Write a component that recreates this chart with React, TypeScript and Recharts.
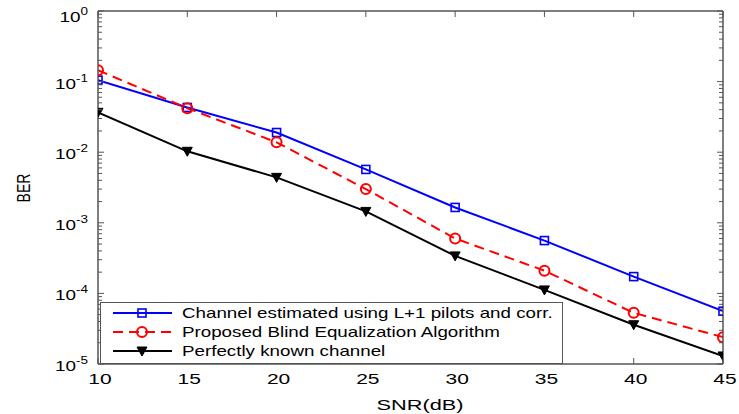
import React from 'react';
import { LineChart, Line, XAxis, YAxis, Legend } from 'recharts';

const snr = [10, 15, 20, 25, 30, 35, 40, 45];
const berEstimated = [0.105, 0.043, 0.019, 0.0057, 0.00165, 0.00056, 0.000173, 0.000056];
const berBlind = [0.145, 0.042, 0.0138, 0.003, 0.0006, 0.00021, 0.000053, 0.000024];
const berKnown = [0.0367, 0.0103, 0.0044, 0.00145, 0.00034, 0.000112, 0.000036, 0.000013];

const seriesKeys = ['est', 'blind', 'known'];
const seriesNames = [
  'Channel estimated using L+1 pilots and corr.',
  'Proposed Blind Equalization Algorithm',
  'Perfectly known channel',
];

const xTicks = [10, 15, 20, 25, 30, 35, 40, 45];
const yMajor = [1e-5, 1e-4, 1e-3, 1e-2, 1e-1, 1];
const minorMult = [2, 3, 4, 5, 6, 7, 8, 9];
const yTicks: number[] = [];
yMajor.forEach((d) => {
  yTicks.push(d);
  if (d < 1) minorMult.forEach((m) => yTicks.push(m * d));
});

const data = snr.map((s, i) => ({
  snr: s,
  est: berEstimated[i],
  blind: berBlind[i],
  known: berKnown[i],
}));

const FONT = '"Liberation Sans", Arial, Helvetica, sans-serif';
const AXIS = '#555555';
const SX = 1.35;

const isMajor = (v: number) => {
  const lg = Math.log10(v);
  return Math.abs(lg - Math.round(lg)) < 1e-6;
};

const YTickLeft = (props: any) => {
  const { x, y, payload } = props;
  const v = payload.value;
  const major = isMajor(v);
  const exp = Math.round(Math.log10(v));
  return (
    <g>
      <path d={`M${x},${y}H${x + (major ? 6 : 4)}`} stroke={AXIS} strokeWidth={1} fill="none" />
      {major && (
        <text
          transform={`translate(${x - 10},${y + (exp === 0 ? 11 : 7)}) scale(${SX},1)`}
          textAnchor="end"
          fontFamily={FONT}
          fontSize={14}
          fill="#000"
        >
          <tspan>10</tspan>
          <tspan dy={-7} fontSize={10}>{String(exp)}</tspan>
        </text>
      )}
    </g>
  );
};

const YTickRight = (props: any) => {
  const { x, y, payload } = props;
  const major = isMajor(payload.value);
  return <path d={`M${x},${y}H${x - (major ? 6 : 4)}`} stroke={AXIS} strokeWidth={1} fill="none" />;
};

const XTickBottom = (props: any) => {
  const { x, y, payload } = props;
  return (
    <g>
      <path d={`M${x},${y}V${y - 6}`} stroke={AXIS} strokeWidth={1} fill="none" />
      <text
        transform={`translate(${x + 2},${y + 20}) scale(1.4,1)`}
        textAnchor="middle"
        fontFamily={FONT}
        fontSize={15}
        fill="#000"
      >
        {payload.value}
      </text>
    </g>
  );
};

const XTickTop = (props: any) => {
  const { x, y } = props;
  return <path d={`M${x},${y}V${y + 6}`} stroke={AXIS} strokeWidth={1} fill="none" />;
};

const Square = (cx: number, cy: number, key?: any) => (
  <rect key={key} x={cx - 4} y={cy - 4} width={8} height={8} fill="none" stroke="#0000ff" strokeWidth={1.6} />
);
const Circle = (cx: number, cy: number, key?: any) => (
  <circle key={key} cx={cx} cy={cy} r={5} fill="none" stroke="#ff0000" strokeWidth={2} />
);
const TriDown = (cx: number, cy: number, key?: any) => (
  <polygon
    key={key}
    points={`${cx - 5},${cy - 4} ${cx + 5},${cy - 4} ${cx},${cy + 5}`}
    fill="#000"
    stroke="#000"
    strokeWidth={1}
  />
);

const markerFor: Record<string, (cx: number, cy: number, key?: any) => React.ReactElement> = {
  est: Square,
  blind: Circle,
  known: TriDown,
};
const dashFor: Record<string, string | undefined> = { est: undefined, blind: '10 6', known: undefined };

const LegendBox = (props: any) => {
  const payload = (props.payload || []).filter((p: any) => p.type !== 'none');
  const ordered = seriesKeys
    .map((k) => payload.find((p: any) => p.dataKey === k && seriesNames.includes(p.value)))
    .filter(Boolean);
  return (
    <svg width={463} height={62} style={{ display: 'block' }}>
      <rect x={0.5} y={0.5} width={462} height={61} fill="#fff" stroke={AXIS} strokeWidth={1} />
      {ordered.map((p: any, i: number) => {
        const yy = 11 + i * 19;
        const key = p.dataKey as string;
        return (
          <g key={key}>
            <line x1={13} y1={yy} x2={72} y2={yy} stroke={p.color} strokeWidth={2} strokeDasharray={dashFor[key]} />
            {markerFor[key](42, yy)}
            <text
              transform={`translate(82,${yy + 5}) scale(1.34,1)`}
              fontFamily={FONT}
              fontSize={14}
              fill="#000"
            >
              {p.value}
            </text>
          </g>
        );
      })}
    </svg>
  );
};

export default function App() {
  return (
    <div style={{ position: 'absolute', left: 0, top: 0, width: 739, height: 414, background: '#fff' }}>
      <LineChart
        width={739}
        height={414}
        data={data}
        margin={{ top: 10, right: 15, bottom: 20, left: 38 }}
      >
        <XAxis
          xAxisId="b"
          dataKey="snr"
          type="number"
          domain={[10, 45]}
          ticks={xTicks}
          interval={0}
          allowDataOverflow
          height={30}
          tickSize={0}
          tickMargin={0}
          tickLine={false}
          axisLine={{ stroke: AXIS, strokeWidth: 1.5 }}
          tick={<XTickBottom />}
          label={{
            content: () => (
              <text
                transform={`translate(420,410) scale(1.45,1)`}
                textAnchor="middle"
                fontFamily={FONT}
                fontSize={15}
                fill="#000"
              >
                SNR(dB)
              </text>
            ),
          }}
        />
        <XAxis
          xAxisId="t"
          orientation="top"
          dataKey="snr"
          type="number"
          domain={[10, 45]}
          ticks={xTicks}
          interval={0}
          allowDataOverflow
          height={1}
          tickSize={0}
          tickMargin={0}
          tickLine={false}
          axisLine={{ stroke: AXIS, strokeWidth: 1.5 }}
          tick={<XTickTop />}
        />
        <YAxis
          yAxisId="l"
          scale="log"
          type="number"
          domain={[1e-5, 1]}
          ticks={yTicks}
          interval={0}
          allowDataOverflow
          width={60}
          tickSize={0}
          tickMargin={0}
          tickLine={false}
          axisLine={{ stroke: AXIS, strokeWidth: 1.5 }}
          tick={<YTickLeft />}
          label={{
            content: () => (
              <text
                transform={`translate(30,188) scale(1.3,1) rotate(-90)`}
                textAnchor="middle"
                fontFamily={FONT}
                fontSize={14}
                fill="#000"
              >
                BER
              </text>
            ),
          }}
        />
        <YAxis
          yAxisId="r"
          orientation="right"
          scale="log"
          type="number"
          domain={[1e-5, 1]}
          ticks={yTicks}
          interval={0}
          allowDataOverflow
          width={1}
          tickSize={0}
          tickMargin={0}
          tickLine={false}
          axisLine={{ stroke: AXIS, strokeWidth: 1.5 }}
          tick={<YTickRight />}
        />
        <Legend
          layout="horizontal"
          verticalAlign="middle"
          align="center"
          content={<LegendBox />}
          wrapperStyle={{ position: 'absolute', left: 100, top: 302, width: 463, height: 62 }}
        />
        <Line
          xAxisId="t"
          yAxisId="r"
          dataKey="known"
          name="frame"
          stroke="transparent"
          strokeWidth={0}
          dot={false}
          activeDot={false}
          legendType="none"
          isAnimationActive={false}
        />
        <Line
          xAxisId="b"
          yAxisId="l"
          dataKey="est"
          name={seriesNames[0]}
          stroke="#0000ff"
          strokeWidth={2}
          isAnimationActive={false}
          dot={(p: any) => Square(p.cx, p.cy, `e${p.index}`)}
          activeDot={false}
        />
        <Line
          xAxisId="b"
          yAxisId="l"
          dataKey="blind"
          name={seriesNames[1]}
          stroke="#ff0000"
          strokeWidth={2}
          strokeDasharray="10 6"
          isAnimationActive={false}
          dot={(p: any) => Circle(p.cx, p.cy, `b${p.index}`)}
          activeDot={false}
        />
        <Line
          xAxisId="b"
          yAxisId="l"
          dataKey="known"
          name={seriesNames[2]}
          stroke="#000000"
          strokeWidth={2}
          isAnimationActive={false}
          dot={(p: any) => TriDown(p.cx, p.cy, `k${p.index}`)}
          activeDot={false}
        />
      </LineChart>
    </div>
  );
}
